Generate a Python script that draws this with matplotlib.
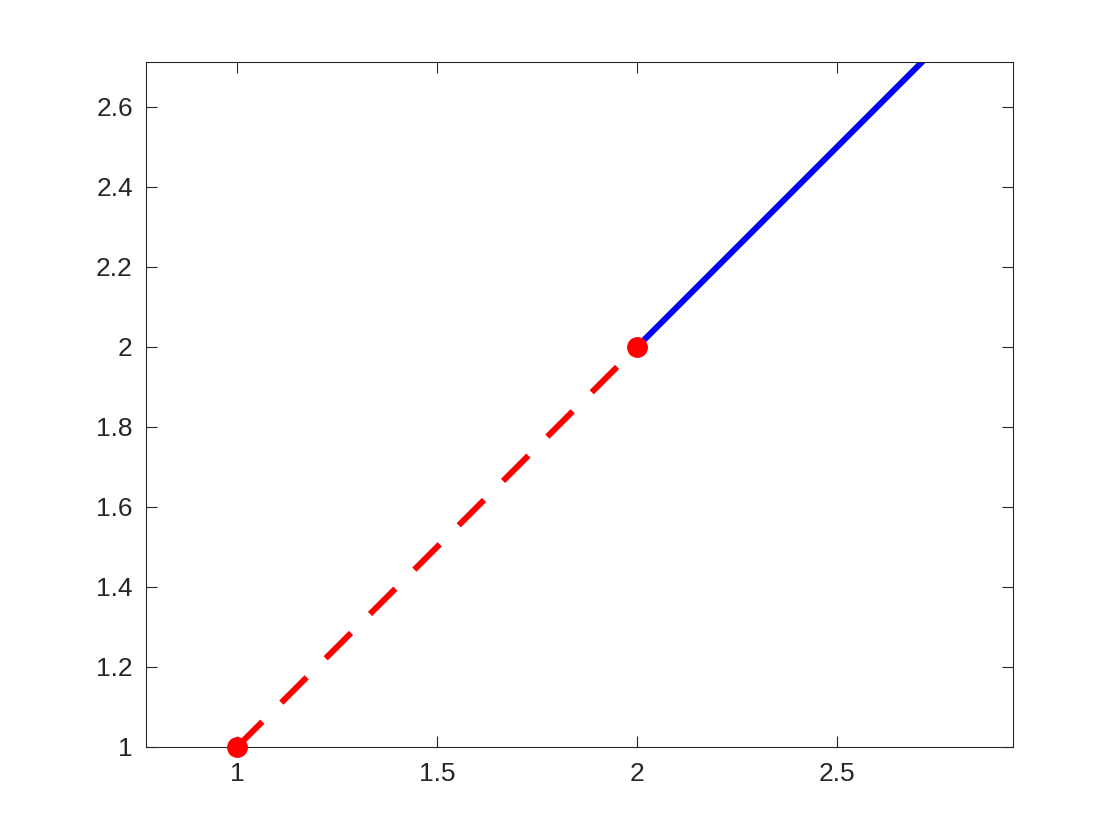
import matplotlib
matplotlib.use("Agg")
import matplotlib.pyplot as plt

# data
red_x = [1, 2]
red_y = [1, 2]
blue_x = [2, 3]
blue_y = [2, 3]
xticks = [1, 1.5, 2, 2.5]
yticks = [1, 1.2, 1.4, 1.6, 1.8, 2, 2.2, 2.4, 2.6]

plt.rcParams['font.family'] = ['Liberation Sans', 'DejaVu Sans']
axcol = (0.15, 0.15, 0.15)

fig = plt.figure(figsize=(11.2, 8.4), dpi=100)
ax = fig.add_axes([146 / 1120, 93 / 840, 867 / 1120, 685 / 840])

ax.plot(blue_x, blue_y, color='blue', lw=4.3, solid_capstyle='butt')
ax.plot(red_x, red_y, color='red', lw=4.3, ls=(0, (6, 4.5)), dash_capstyle='butt',
        marker='o', markersize=14, markeredgecolor='red', markerfacecolor='red',
        clip_on=False, zorder=3)

ax.set_xlim(0.7725, 2.94)
ax.set_ylim(1, 2.7125)
ax.set_xticks(xticks)
ax.set_xticklabels(['1', '1.5', '2', '2.5'])
ax.set_yticks(yticks)
ax.set_yticklabels(['1', '1.2', '1.4', '1.6', '1.8', '2', '2.2', '2.4', '2.6'])

ax.tick_params(direction='in', length=8, width=0.8, colors=axcol, labelsize=19,
               top=True, right=True)
ax.tick_params(axis='y', pad=9.5)
ax.tick_params(axis='x', pad=11)
for s in ax.spines.values():
    s.set_color(axcol)
    s.set_linewidth(0.8)

fig.savefig('out.png', dpi=100)
